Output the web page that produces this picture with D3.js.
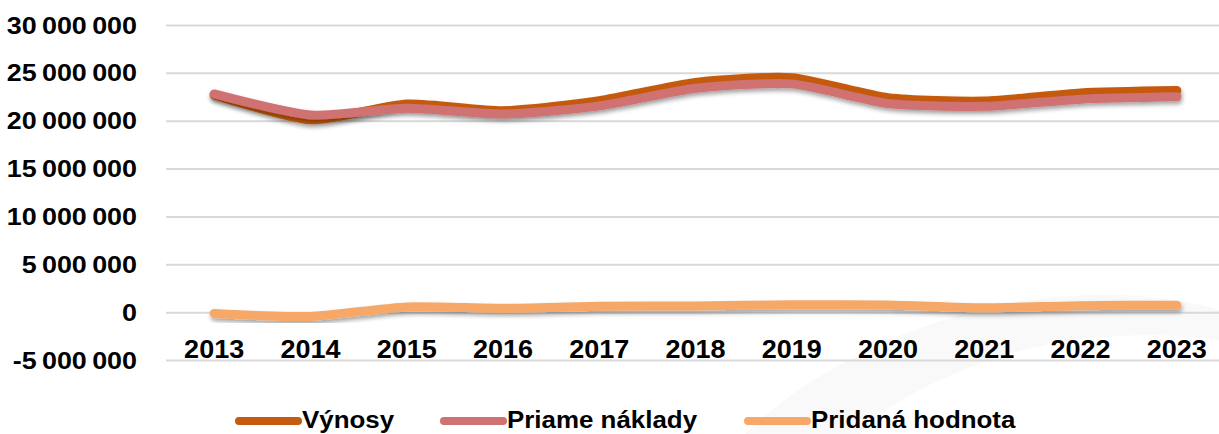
<!DOCTYPE html>
<html>
<head>
<meta charset="utf-8">
<script src="https://cdn.jsdelivr.net/npm/d3@7"></script>
<style>
  html, body { margin: 0; padding: 0; background: #fff; }
  svg { display: block; }
  text { font-family: "Liberation Sans", Arial, sans-serif; font-weight: bold; fill: #000; }
</style>
</head>
<body>
<svg id="chart" width="1219" height="434"></svg>
<script>
// ---- data ----
const years = ["2013","2014","2015","2016","2017","2018","2019","2020","2021","2022","2023"];
const vynosy  = [22700000, 20100000, 21750000, 21050000, 22100000, 24000000, 24500000, 22400000, 22050000, 22900000, 23150000];
const priame  = [22800000, 20600000, 21300000, 20700000, 21550000, 23400000, 23850000, 21800000, 21500000, 22250000, 22500000];
const pridana = [-130000, -450000, 550000, 400000, 620000, 650000, 780000, 750000, 450000, 680000, 720000];
const yTickValues = [-5000000, 0, 5000000, 10000000, 15000000, 20000000, 25000000, 30000000];
const seriesNames = ["Výnosy", "Priame náklady", "Pridaná hodnota"];
const seriesColors = ["#C55A11", "#D07172", "#F6A868"];

// ---- layout ----
const svg = d3.select("#chart");

const x = d3.scaleBand().domain(years).range([166, 1225]).padding(0);
const xc = d => x(d) + x.bandwidth() / 2;
const y = d3.scaleLinear().domain([-5000000, 30000000]).range([360, 25]);

const loc = d3.formatLocale({decimal: ",", thousands: "\u2009", grouping: [3], currency: ["", ""], minus: "-"});
const fmt = loc.format(",d");

// faint watermark swoosh
svg.append("path")
  .attr("d", "M 745 434 C 800 380, 900 320, 1030 300 C 1120 288, 1190 300, 1219 310 L 1219 340 C 1150 330, 1060 335, 990 360 C 920 385, 880 410, 860 434 Z")
  .attr("fill", "#f2f2f2")
  .attr("opacity", 0.45);

// shadow filter
const defs = svg.append("defs");
const f = defs.append("filter").attr("id", "shadow").attr("x", "-5%").attr("y", "-50%").attr("width", "110%").attr("height", "200%");
f.append("feDropShadow").attr("dx", 1).attr("dy", 3).attr("stdDeviation", 2).attr("flood-color", "#000").attr("flood-opacity", 0.35);

// gridlines
const yAxis = d3.axisLeft(y).tickValues(yTickValues).tickSize(-(1225 - 166)).tickFormat("");
const gGrid = svg.append("g").attr("transform", "translate(166,0)").call(yAxis);
gGrid.select(".domain").remove();
gGrid.selectAll(".tick line").attr("stroke", "#D9D9D9").attr("stroke-width", 2);

// y labels
svg.append("g").selectAll("text")
  .data(yTickValues)
  .join("text")
  .attr("transform", d => `translate(137,${y(d) + 8.5}) scale(1.12,1)`)
  .attr("text-anchor", "end")
  .attr("font-size", 24)
  .text(d => fmt(d));

// x labels
svg.append("g").selectAll("text")
  .data(years)
  .join("text")
  .attr("transform", d => `translate(${xc(d)},358) scale(1.08,1)`)
  .attr("text-anchor", "middle")
  .attr("font-size", 25)
  .text(d => d);

// lines
const line = d3.line()
  .x((d, i) => xc(years[i]))
  .y(d => y(d))
  .curve(d3.curveCardinal.tension(0.35));

const allSeries = [vynosy, priame, pridana];
allSeries.forEach((s, k) => {
  svg.append("path")
    .datum(s)
    .attr("d", line)
    .attr("fill", "none")
    .attr("stroke", seriesColors[k])
    .attr("stroke-width", 9)
    .attr("stroke-linecap", "round")
    .attr("stroke-linejoin", "round")
    .attr("filter", "url(#shadow)");
});

// legend
const legendX = [236, 441, 745];
const lg = svg.append("g");
seriesNames.forEach((name, k) => {
  const g = lg.append("g").attr("transform", `translate(${legendX[k]},0)`);
  g.append("line")
    .attr("x1", 3).attr("x2", 62)
    .attr("y1", 421).attr("y2", 421)
    .attr("stroke", seriesColors[k])
    .attr("stroke-width", 8)
    .attr("stroke-linecap", "round");
  g.append("text")
    .attr("transform", "translate(66,428) scale(1.08,1)")
    .attr("font-size", 24)
    .text(name);
});
</script>
</body>
</html>
